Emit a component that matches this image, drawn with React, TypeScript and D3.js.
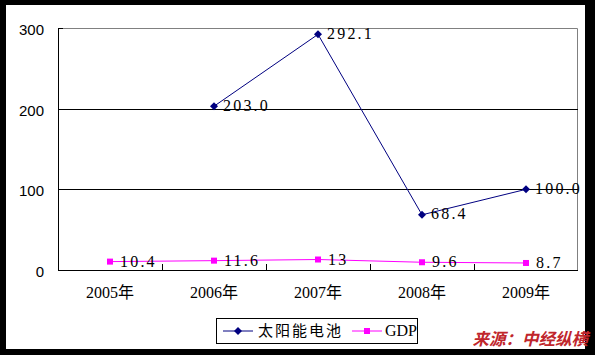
import { useRef, useEffect } from 'react';
import * as d3 from 'd3';

const WIDTH = 595;
const HEIGHT = 355;

const categories = ['2005年', '2006年', '2007年', '2008年', '2009年'];
const solarValues: (number | null)[] = [null, 203.0, 292.1, 68.4, 100.0];
const solarLabels = ['', '203.0', '292.1', '68.4', '100.0'];
const gdpValues = [10.4, 11.6, 13, 9.6, 8.7];
const gdpLabels = ['10.4', '11.6', '13', '9.6', '8.7'];
const yTicks = [0, 100, 200, 300];
const seriesNames = ['太阳能电池', 'GDP'];

const SOLAR_COLOR = '#000080';
const GDP_COLOR = '#ff00ff';
const PLOT = { left: 58, right: 578, top: 28, bottom: 270 };

export default function App() {
  const svgRef = useRef<SVGSVGElement>(null);

  useEffect(() => {
    const svg = d3.select(svgRef.current);
    svg.selectAll('*').remove();

    const x = d3
      .scaleBand<string>()
      .domain(categories)
      .range([PLOT.left, PLOT.right]);
    const y = d3
      .scaleLinear()
      .domain([0, 300])
      .range([PLOT.bottom, PLOT.top]);
    const cx = (i: number) => (x(categories[i]) as number) + x.bandwidth() / 2;

    // black frame + white panel
    svg.append('rect').attr('width', WIDTH).attr('height', HEIGHT).attr('fill', '#000');
    svg
      .append('rect')
      .attr('x', 6)
      .attr('y', 5)
      .attr('width', 579)
      .attr('height', 344)
      .attr('fill', '#fff');

    // plot border (gray top/right)
    svg
      .append('path')
      .attr('d', `M${PLOT.left},${PLOT.top + 0.5}H${PLOT.right - 0.5}V${PLOT.bottom}`)
      .attr('fill', 'none')
      .attr('stroke', '#808080')
      .attr('stroke-width', 1);

    // gridlines
    yTicks
      .filter((t) => t > 0 && t < 300)
      .forEach((t) => {
        svg
          .append('line')
          .attr('x1', PLOT.left)
          .attr('x2', PLOT.right)
          .attr('y1', Math.round(y(t)) + 0.5)
          .attr('y2', Math.round(y(t)) + 0.5)
          .attr('stroke', '#000')
          .attr('stroke-width', 1);
      });

    // y axis
    svg
      .append('line')
      .attr('x1', PLOT.left + 0.5)
      .attr('x2', PLOT.left + 0.5)
      .attr('y1', PLOT.top)
      .attr('y2', PLOT.bottom + 1)
      .attr('stroke', '#000');
    yTicks.forEach((t) => {
      const yy = Math.round(y(t)) + 0.5;
      svg
        .append('line')
        .attr('x1', PLOT.left)
        .attr('x2', PLOT.left + 5)
        .attr('y1', yy)
        .attr('y2', yy)
        .attr('stroke', '#000');
      svg
        .append('text')
        .attr('x', 44)
        .attr('y', y(t) + 3)
        .attr('text-anchor', 'end')
        .attr('dominant-baseline', 'middle')
        .attr('font-family', '"Liberation Sans", Arial, sans-serif')
        .attr('font-size', 15)
        .attr('fill', '#000')
        .text(t);
    });

    // x axis
    svg
      .append('line')
      .attr('x1', PLOT.left)
      .attr('x2', PLOT.right)
      .attr('y1', PLOT.bottom + 0.5)
      .attr('y2', PLOT.bottom + 0.5)
      .attr('stroke', '#000');
    categories.forEach((c, i) => {
      const bx = Math.round(x(c) as number) + 0.5;
      if (i > 0) {
        svg
          .append('line')
          .attr('x1', bx)
          .attr('x2', bx)
          .attr('y1', PLOT.bottom - 6)
          .attr('y2', PLOT.bottom)
          .attr('stroke', '#000');
      }
      svg
        .append('text')
        .attr('x', cx(i))
        .attr('y', 294)
        .attr('text-anchor', 'middle')
        .attr('dominant-baseline', 'middle')
        .attr('font-family', '"Liberation Serif", "Noto Sans CJK SC", serif')
        .attr('font-size', 16)
        .attr('fill', '#000')
        .text(c);
    });

    // solar series
    const solarPts = solarValues.map((v, i) => ({ v, i }));
    const line = d3
      .line<{ v: number | null; i: number }>()
      .defined((d) => d.v !== null)
      .x((d) => cx(d.i))
      .y((d) => y(d.v as number));
    svg
      .append('path')
      .attr('d', line(solarPts))
      .attr('fill', 'none')
      .attr('stroke', SOLAR_COLOR)
      .attr('stroke-width', 1);

    // gdp series
    const gdpPts = gdpValues.map((v, i) => ({ v, i }));
    svg
      .append('path')
      .attr('d', line(gdpPts))
      .attr('fill', 'none')
      .attr('stroke', GDP_COLOR)
      .attr('stroke-width', 1);

    const labelFont = '"Liberation Serif", "DejaVu Serif", serif';

    solarPts.forEach((d) => {
      if (d.v === null) return;
      const px = cx(d.i);
      const py = y(d.v);
      svg
        .append('path')
        .attr('d', `M${px},${py - 4}L${px + 4},${py}L${px},${py + 4}L${px - 4},${py}Z`)
        .attr('fill', SOLAR_COLOR);
      svg
        .append('text')
        .attr('x', px + 9)
        .attr('y', py + 1)
        .attr('dominant-baseline', 'middle')
        .attr('font-family', labelFont)
        .attr('font-size', 16)
        .attr('letter-spacing', 2.2)
        .attr('fill', '#000')
        .text(solarLabels[d.i]);
    });

    gdpPts.forEach((d) => {
      const px = cx(d.i);
      const py = y(d.v);
      svg
        .append('rect')
        .attr('x', px - 3)
        .attr('y', py - 3)
        .attr('width', 6)
        .attr('height', 6)
        .attr('fill', GDP_COLOR);
      svg
        .append('text')
        .attr('x', px + 10)
        .attr('y', py + 1.5)
        .attr('dominant-baseline', 'middle')
        .attr('font-family', labelFont)
        .attr('font-size', 16)
        .attr('letter-spacing', 2.2)
        .attr('fill', '#000')
        .text(gdpLabels[d.i]);
    });

    // legend
    const lg = svg.append('g');
    lg.append('rect')
      .attr('x', 216.5)
      .attr('y', 318.5)
      .attr('width', 201)
      .attr('height', 25)
      .attr('fill', '#fff')
      .attr('stroke', '#000');
    const ly = 331;
    lg.append('line')
      .attr('x1', 223)
      .attr('x2', 253)
      .attr('y1', ly)
      .attr('y2', ly)
      .attr('stroke', SOLAR_COLOR);
    lg.append('path')
      .attr('d', `M238,${ly - 4}L242,${ly}L238,${ly + 4}L234,${ly}Z`)
      .attr('fill', SOLAR_COLOR);
    lg.append('text')
      .attr('x', 258)
      .attr('y', ly + 1)
      .attr('dominant-baseline', 'middle')
      .attr('font-family', '"Noto Sans CJK SC", sans-serif')
      .attr('font-size', 15)
      .attr('letter-spacing', 2)
      .attr('fill', '#000')
      .text(seriesNames[0]);
    lg.append('line')
      .attr('x1', 352)
      .attr('x2', 382)
      .attr('y1', ly)
      .attr('y2', ly)
      .attr('stroke', GDP_COLOR);
    lg.append('rect')
      .attr('x', 364)
      .attr('y', ly - 3)
      .attr('width', 6)
      .attr('height', 6)
      .attr('fill', GDP_COLOR);
    lg.append('text')
      .attr('x', 385)
      .attr('y', ly + 1)
      .attr('dominant-baseline', 'middle')
      .attr('font-family', labelFont)
      .attr('font-size', 16)
      .attr('fill', '#000')
      .text(seriesNames[1]);

    // source note
    svg
      .append('text')
      .attr('x', 588)
      .attr('y', 341)
      .attr('text-anchor', 'end')
      .attr('dominant-baseline', 'middle')
      .attr('font-family', '"Noto Sans CJK SC", sans-serif')
      .attr('font-size', 16.5)
      .attr('font-weight', 700)
      .attr('font-style', 'italic')
      .attr('fill', '#c0262c')
      .text('来源：中经纵横');
  }, []);

  return (
    <svg
      ref={svgRef}
      width={WIDTH}
      height={HEIGHT}
      style={{ position: 'absolute', left: 0, top: 0 }}
    />
  );
}
